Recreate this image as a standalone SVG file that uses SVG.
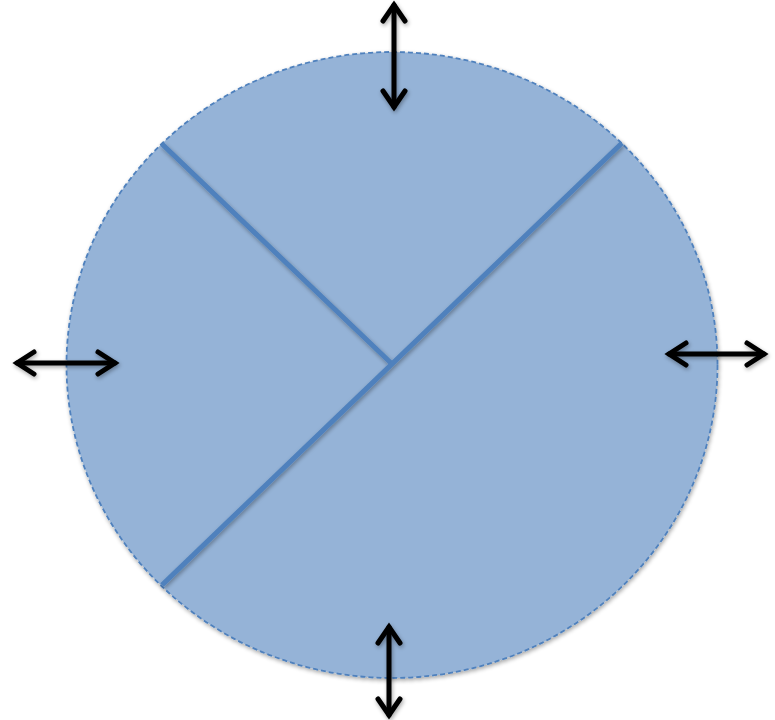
<svg xmlns="http://www.w3.org/2000/svg" width="775" height="720" viewBox="0 0 775 720">
<defs>
<style>
.arrow{stroke:#000;stroke-width:5;fill:none;stroke-linecap:round;stroke-linejoin:miter}
.div{stroke:#4f81bd;stroke-width:5;fill:none}
</style>
<filter id="sh" x="-10%" y="-10%" width="120%" height="120%">
<feGaussianBlur in="SourceAlpha" stdDeviation="2"/>
<feOffset dx="1" dy="2"/>
<feComponentTransfer><feFuncA type="linear" slope="0.35"/></feComponentTransfer>
<feMerge><feMergeNode/><feMergeNode in="SourceGraphic"/></feMerge>
</filter>
</defs>
<rect width="775" height="720" fill="#fff"/>
<g id="circle">
<ellipse cx="392" cy="365" rx="325.5" ry="313" fill="#95b3d7" stroke="#4f81bd" stroke-width="1.8" stroke-dasharray="5,3" filter="url(#sh)"/>
</g>
<g id="dividers" filter="url(#sh)">
<line class="div" x1="162" y1="144" x2="392" y2="364"/>
<line class="div" x1="622" y1="143" x2="162" y2="585"/>
</g>
<g id="connectors" filter="url(#sh)">
<g id="arrow-top">
<line class="arrow" x1="394" y1="5" x2="394" y2="107"/>
<polyline class="arrow" points="383,21 394,5 405,21"/>
<polyline class="arrow" points="383,91 394,107 405,91"/>
</g>
<g id="arrow-left">
<line class="arrow" x1="17" y1="363" x2="115" y2="363"/>
<polyline class="arrow" points="34,352 17,363 34,374"/>
<polyline class="arrow" points="98,352 115,363 98,374"/>
</g>
<g id="arrow-right">
<line class="arrow" x1="669" y1="354" x2="764" y2="354"/>
<polyline class="arrow" points="686,343 669,354 686,365"/>
<polyline class="arrow" points="747,343 764,354 747,365"/>
</g>
<g id="arrow-bottom">
<line class="arrow" x1="389" y1="627" x2="389" y2="715"/>
<polyline class="arrow" points="378,643 389,627 400,643"/>
<polyline class="arrow" points="378,699 389,715 400,699"/>
</g>
</g>
</svg>
